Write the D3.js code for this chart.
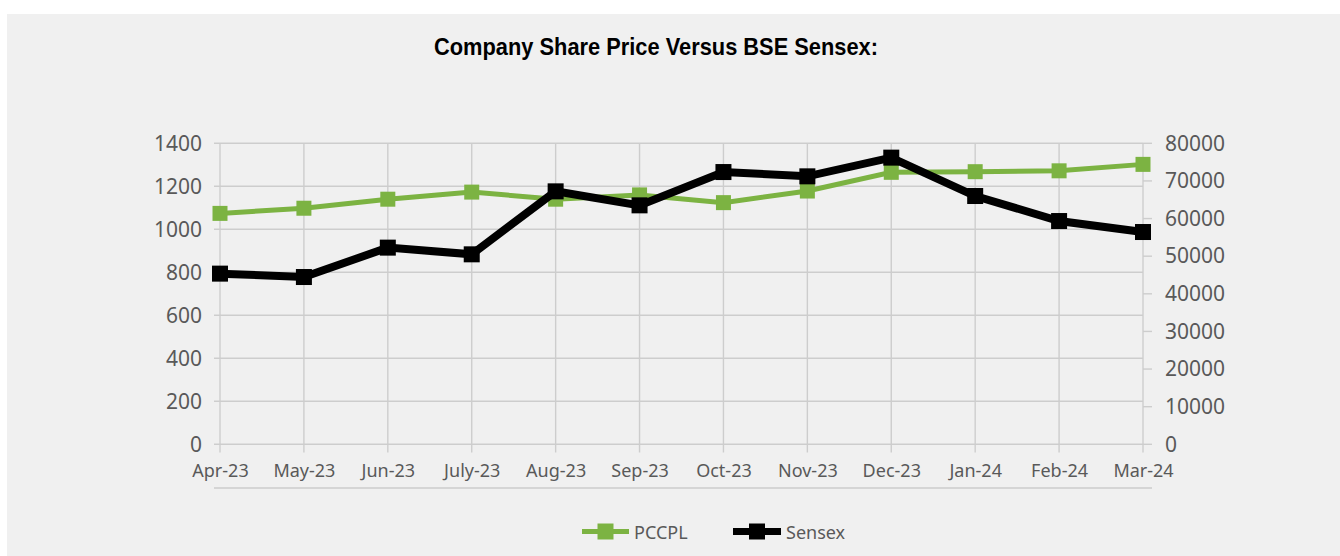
<!DOCTYPE html>
<html><head><meta charset="utf-8">
<script src="https://cdn.jsdelivr.net/npm/d3@7/dist/d3.min.js"></script>
<style>html,body{margin:0;padding:0;background:#fff;}svg{display:block;}</style>
</head><body>
<svg id="chart" width="1340" height="556"></svg>
<script>
const categories = ["Apr-23","May-23","Jun-23","July-23","Aug-23","Sep-23","Oct-23","Nov-23","Dec-23","Jan-24","Feb-24","Mar-24"];
const pccpl = [1074,1098,1140,1173,1140,1160,1124,1178,1265,1268,1272,1302];
const sensex = [45360,44460,52270,50490,67230,63510,72360,71220,76190,65990,59340,56420];
const leftTicks = [0,200,400,600,800,1000,1200,1400];
const rightTicks = [0,10000,20000,30000,40000,50000,60000,70000,80000];
const seriesNames = ["PCCPL","Sensex"];
const title = "Company Share Price Versus BSE Sensex:";

const svg = d3.select("#chart");
const FONT = "'Noto Sans', 'Open Sans', sans-serif";
const GREEN = "#7cb342", BLACK = "#000000", GRID = "#cdcdcd", TXT = "#595959";

svg.append("rect").attr("x",7).attr("y",14).attr("width",1333).attr("height",542).attr("fill","#f0f0f0");

svg.append("text").attr("x",656).attr("y",54.5).attr("text-anchor","middle")
  .attr("font-family","'Liberation Sans Narrow', 'Liberation Sans', sans-serif").attr("font-weight","bold")
  .attr("font-size",24).attr("fill","#000").attr("textLength",444).attr("lengthAdjust","spacingAndGlyphs")
  .text(title);

const x = d3.scalePoint().domain(categories).range([220,1143]);
const yL = d3.scaleLinear().domain([0,1400]).range([444.3,143.3]);
const yR = d3.scaleLinear().domain([0,80000]).range([444.3,143.3]);

const grid = svg.append("g").attr("stroke",GRID).attr("stroke-width",1.4);
leftTicks.forEach(t=>{
  grid.append("line").attr("x1",214).attr("x2",1143).attr("y1",yL(t)).attr("y2",yL(t));
});
categories.forEach(c=>{
  grid.append("line").attr("x1",x(c)).attr("x2",x(c)).attr("y1",yL(1400)).attr("y2",452.5);
});
rightTicks.forEach(t=>{
  grid.append("line").attr("x1",1143).attr("x2",1152).attr("y1",yR(t)).attr("y2",yR(t));
});
grid.append("line").attr("x1",214).attr("x2",1152).attr("y1",488).attr("y2",488);

function styleAxis(g,size){
  g.select(".domain").remove();
  g.selectAll("line").remove();
  g.selectAll("text").attr("font-family",FONT).attr("font-size",size).attr("fill",TXT);
}
svg.append("g").attr("transform","translate(220,0)")
  .call(d3.axisLeft(yL).tickValues(leftTicks).tickSize(0).tickPadding(18).tickFormat(d3.format("d")))
  .call(g=>styleAxis(g,21));
svg.append("g").attr("transform","translate(1143,0)")
  .call(d3.axisRight(yR).tickValues(rightTicks).tickSize(0).tickPadding(22).tickFormat(d3.format("d")))
  .call(g=>styleAxis(g,21));
svg.append("g").attr("transform","translate(0,444.3)")
  .call(d3.axisBottom(x).tickSize(0).tickPadding(20))
  .call(g=>styleAxis(g,18));

function drawSeries(vals, yScale, color, lw, ms){
  const line = d3.line().x((d,i)=>x(categories[i])).y(d=>yScale(d));
  svg.append("path").datum(vals).attr("d",line).attr("fill","none")
    .attr("stroke",color).attr("stroke-width",lw).attr("stroke-linejoin","miter");
  svg.append("g").selectAll("rect").data(vals).join("rect")
    .attr("x",(d,i)=>x(categories[i])-ms/2).attr("y",d=>yScale(d)-ms/2)
    .attr("width",ms).attr("height",ms).attr("fill",color);
}
drawSeries(pccpl, yL, GREEN, 5, 15);
drawSeries(sensex, yR, BLACK, 8, 16);

// legend
const legend = [
  {name:seriesNames[0], color:GREEN, lw:5, x1:582, x2:629},
  {name:seriesNames[1], color:BLACK, lw:7, x1:733, x2:781}
];
legend.forEach(l=>{
  const g = svg.append("g");
  g.append("line").attr("x1",l.x1).attr("x2",l.x2).attr("y1",531.5).attr("y2",531.5)
    .attr("stroke",l.color).attr("stroke-width",l.lw);
  const cx=(l.x1+l.x2)/2;
  g.append("rect").attr("x",cx-8).attr("y",523.5).attr("width",16).attr("height",16).attr("fill",l.color);
  g.append("text").attr("x",l.x2+5).attr("y",538.5).attr("font-family",FONT).attr("font-size",18)
    .attr("fill",TXT).text(l.name);
});
</script>
</body></html>
